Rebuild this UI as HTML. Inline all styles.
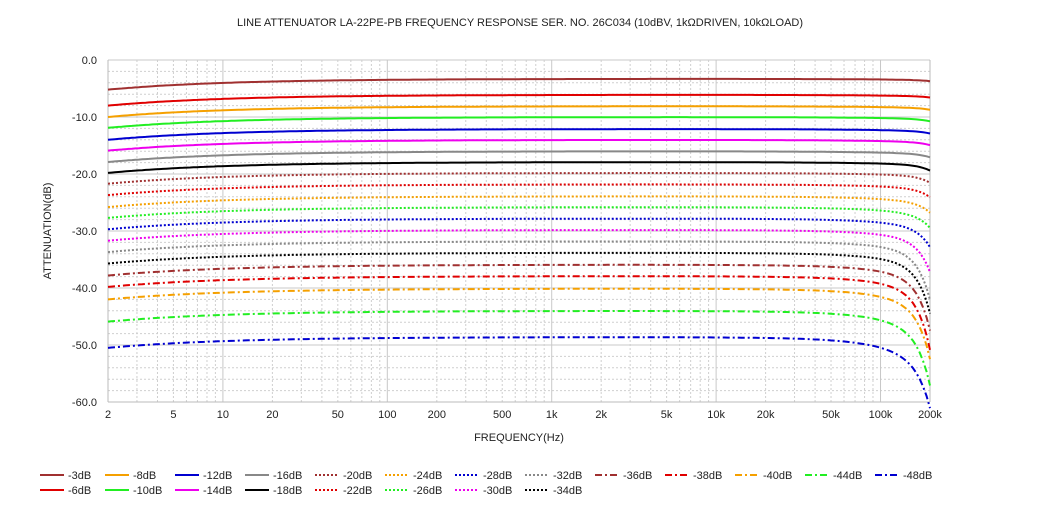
<!DOCTYPE html>
<html><head><meta charset="utf-8"><style>
body{margin:0;background:#fff;width:1040px;height:520px;overflow:hidden}
svg{display:block;font-family:"Liberation Sans",sans-serif}
</style></head><body>
<svg id="s" width="1040" height="520" xmlns="http://www.w3.org/2000/svg"></svg>
<script>
var s=document.getElementById('s'),h='';
var X0=108,X1=930,Y0=60,Y1=402;
function fx(f){return X0+(Math.log10(f)-Math.log10(2))/5*(X1-X0);}
function fy(d){return Y0+(-d)/60*(Y1-Y0);}
for(var d=0;d<=60;d+=2){var y=fy(-d);var maj=d%10==0;
h+='<line x1="'+X0+'" x2="'+X1+'" y1="'+y+'" y2="'+y+'" stroke="'+(maj?'#c8c8c8':'#cfcfcf')+'" stroke-width="1" '+(maj?'':'stroke-dasharray="2,2"')+'/>';}
for(var e=0;e<=5;e++){for(var m=1;m<=9;m++){
 var base=Math.pow(10,e);var f2=(m)*base; if(f2<2||f2>200000)continue;var x=fx(f2);var maj=(m==1);
 h+='<line x1="'+x+'" x2="'+x+'" y1="'+Y0+'" y2="'+Y1+'" stroke="'+(maj?'#c8c8c8':'#cfcfcf')+'" '+(maj?'':'stroke-dasharray="2,2"')+'/>';}}
h+='<line x1="'+X0+'" x2="'+X0+'" y1="'+Y0+'" y2="'+Y1+'" stroke="#bbb"/>';
h+='<line x1="'+X1+'" x2="'+X1+'" y1="'+Y0+'" y2="'+Y1+'" stroke="#bbb"/>';
h+='<line x1="'+X0+'" x2="'+X1+'" y1="'+Y1+'" y2="'+Y1+'" stroke="#bbb"/>';
for(var d=0;d<=60;d+=10)h+='<text x="97" y="'+(fy(-d)+4)+'" font-size="11" text-anchor="end" fill="#222">'+(d==0?'0.0':'-'+d+'.0')+'</text>';
var xl=[[2,'2'],[5,'5'],[10,'10'],[20,'20'],[50,'50'],[100,'100'],[200,'200'],[500,'500'],[1e3,'1k'],[2e3,'2k'],[5e3,'5k'],[1e4,'10k'],[2e4,'20k'],[5e4,'50k'],[1e5,'100k'],[2e5,'200k']];
xl.forEach(function(a){h+='<text x="'+fx(a[0])+'" y="418" font-size="11" text-anchor="middle" fill="#222">'+a[1]+'</text>';});
h+='<text x="520" y="26" font-size="11" text-anchor="middle" fill="#222">LINE ATTENUATOR LA-22PE-PB FREQUENCY RESPONSE SER. NO. 26C034 (10dBV, 1kΩDRIVEN, 10kΩLOAD)</text>';
h+='<text x="519" y="441" font-size="11" text-anchor="middle" fill="#222">FREQUENCY(Hz)</text>';
h+='<text x="51" y="231" font-size="11" text-anchor="middle" fill="#222" transform="rotate(-90 51 231)">ATTENUATION(dB)</text>';
var C={br:'#a03030',r:'#e00000',o:'#f5a000',g:'#22ee22',b:'#0000d0',m:'#ee00ee',gy:'#888888',k:'#000000'};
var S=[['-3dB',-3.3,'br',0,0.2],['-6dB',-6.1,'r',0,0.2],['-8dB',-8.1,'o',0,0.3],['-10dB',-10,'g',0,0.4],['-12dB',-12.1,'b',0,0.4],['-14dB',-14,'m',0,0.5],['-16dB',-16,'gy',0,0.6],['-18dB',-17.9,'k',0,1.0],
['-20dB',-19.8,'br',1,1.2],['-22dB',-21.8,'r',1,1.4],['-24dB',-23.9,'o',1,1.6],['-26dB',-25.8,'g',1,2.0],['-28dB',-27.8,'b',1,3.0],['-30dB',-29.8,'m',1,5.0],['-32dB',-31.8,'gy',1,7.5],['-34dB',-33.8,'k',1,7.5],
['-36dB',-35.9,'br',2,8],['-38dB',-37.9,'r',2,9],['-40dB',-40.1,'o',2,8],['-44dB',-44,'g',2,8],['-48dB',-48.6,'b',2,6.5]];
var dash=['','stroke-dasharray="2,2"','stroke-dasharray="7,3,2,3"'];
S.forEach(function(c){var lvl=-c[1];var k1=0.15+lvl*0.02;var k3=lvl>20?(lvl-20)*0.17:0;var p='';
 for(var i=0;i<=240;i++){var lf=Math.log10(2)+5*i/240;var f=Math.pow(10,lf);var r=f/2e5;
  var d=c[1]-1.9*Math.pow(2/f,0.6)-k1*r-k3*r*r-c[4]*Math.pow(r,6);
  p+=(i?'L':'M')+fx(f).toFixed(1)+','+fy(d).toFixed(1);}
 h+='<path d="'+p+'" fill="none" stroke="'+C[c[2]]+'" stroke-width="2" '+dash[c[3]]+'/>';});
S.forEach(function(c,i){var col=Math.floor(i/2),row=i%2;if(i>=16){col=8+(i-16);row=0;}
 var x=col==0?40:105+70*(col-1);var y=row?490:475;
 h+='<line x1="'+x+'" x2="'+(x+24)+'" y1="'+y+'" y2="'+y+'" stroke="'+C[c[2]]+'" stroke-width="2" '+dash[c[3]]+'/>';
 h+='<text x="'+(x+28)+'" y="'+(y+4)+'" font-size="11" fill="#222">'+c[0]+'</text>';});
s.innerHTML=h;
</script>
</body></html>
